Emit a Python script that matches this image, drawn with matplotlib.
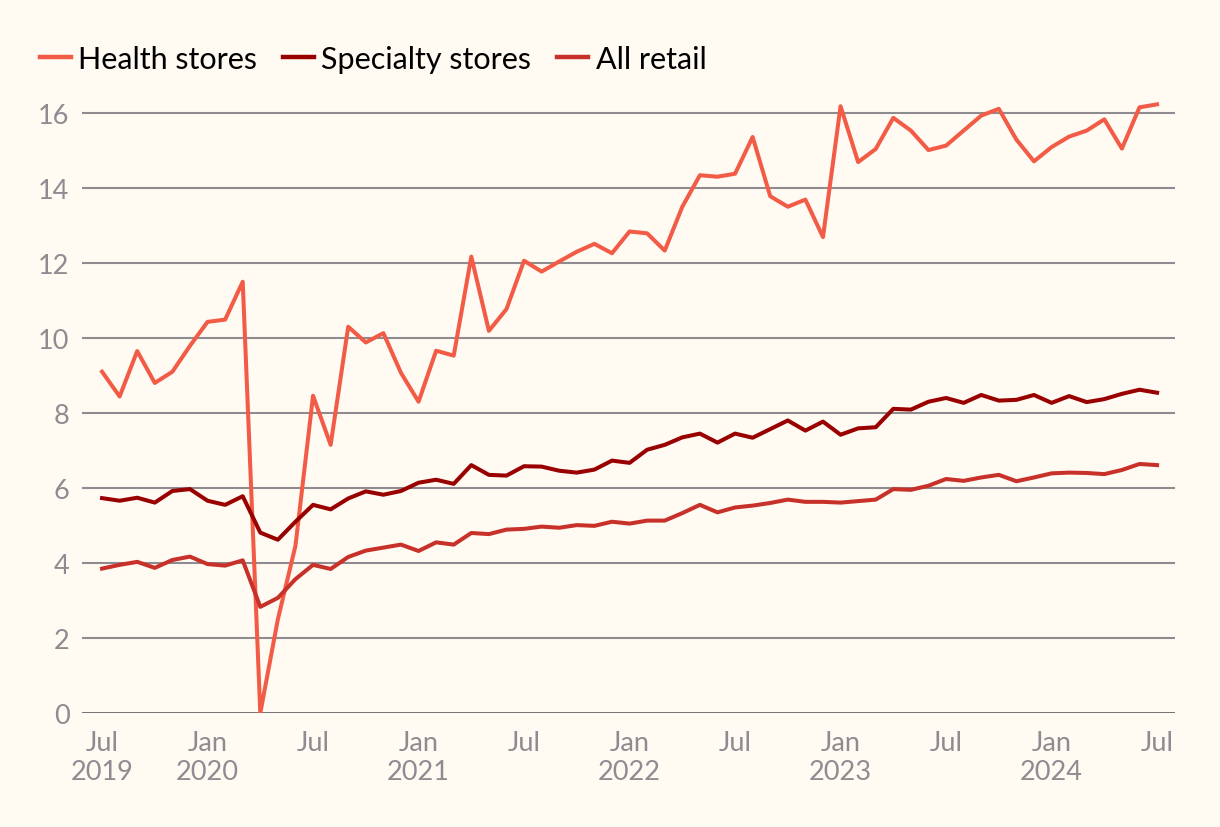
import matplotlib
matplotlib.use("Agg")
import matplotlib.pyplot as plt
from matplotlib.lines import Line2D

# monthly, Jul 2019 .. Jul 2024
health = [9.10, 8.44, 9.65, 8.80, 9.10, 9.79, 10.43, 10.49, 11.50, 0.00,
          2.50, 4.46, 8.46, 7.15, 10.30, 9.88, 10.13, 9.07, 8.30, 9.66,
          9.53, 12.17, 10.19, 10.77, 12.06, 11.77, 12.04, 12.30, 12.51, 12.26,
          12.84, 12.79, 12.33, 13.50, 14.34, 14.30, 14.38, 15.36, 13.78, 13.50,
          13.69, 12.69, 16.18, 14.69, 15.04, 15.87, 15.53, 15.01, 15.13, 15.53,
          15.93, 16.11, 15.29, 14.71, 15.09, 15.37, 15.53, 15.83, 15.05, 16.15,
          16.23]
specialty = [5.73, 5.66, 5.74, 5.61, 5.92, 5.97, 5.66, 5.55, 5.78, 4.81,
             4.62, 5.10, 5.55, 5.43, 5.72, 5.91, 5.82, 5.92, 6.14, 6.22,
             6.11, 6.61, 6.35, 6.33, 6.58, 6.57, 6.46, 6.41, 6.49, 6.73,
             6.67, 7.02, 7.15, 7.35, 7.45, 7.21, 7.45, 7.34, 7.57, 7.80,
             7.53, 7.77, 7.42, 7.59, 7.62, 8.11, 8.09, 8.30, 8.40, 8.27,
             8.48, 8.33, 8.35, 8.48, 8.27, 8.45, 8.29, 8.37, 8.51, 8.62,
             8.54]
all_retail = [3.85, 3.95, 4.03, 3.87, 4.08, 4.17, 3.97, 3.93, 4.07, 2.83,
              3.07, 3.57, 3.95, 3.84, 4.16, 4.33, 4.41, 4.49, 4.32, 4.55,
              4.49, 4.80, 4.77, 4.89, 4.91, 4.97, 4.94, 5.01, 4.99, 5.10,
              5.05, 5.13, 5.13, 5.33, 5.55, 5.35, 5.48, 5.53, 5.60, 5.69,
              5.63, 5.63, 5.61, 5.65, 5.69, 5.97, 5.95, 6.06, 6.24, 6.19,
              6.28, 6.35, 6.18, 6.28, 6.39, 6.41, 6.40, 6.37, 6.48, 6.64,
              6.61]
tick_labels = ["Jul\n2019", "Jan\n2020", "Jul", "Jan\n2021", "Jul", "Jan\n2022",
               "Jul", "Jan\n2023", "Jul", "Jan\n2024", "Jul"]
y_ticks = [0, 2, 4, 6, 8, 10, 12, 14, 16]

bg = "#fffaf2"
c_health = "#f25c47"
c_spec = "#990000"
c_all = "#c8312a"
grey = "#8e8c91"

plt.rcParams['font.family'] = ['Lato', 'DejaVu Sans']

fig = plt.figure(figsize=(12.2, 8.28), dpi=100, facecolor=bg)
ax = fig.add_axes([82 / 1220, 0.1377, 1093 / 1220, 0.7473], facecolor=bg)

x = list(range(len(health)))
ax.plot(x, health, color=c_health, lw=2.9, zorder=3)
ax.plot(x, specialty, color=c_spec, lw=2.9, zorder=3)
ax.plot(x, all_retail, color=c_all, lw=2.9, zorder=3)

ax.set_xlim(-1.14, 61.02)
ax.set_ylim(0, 16.5)
ax.set_yticks(y_ticks)
ax.set_yticklabels([str(v) for v in y_ticks])
ax.set_xticks(range(0, len(health), 6))
ax.set_xticklabels(tick_labels, linespacing=1.2)

for v in y_ticks[1:]:
    ax.axhline(v, color=grey, lw=1.5, zorder=1)
ax.axhline(0, color="#4d4a4f", lw=1.8, zorder=2)

for s in ax.spines.values():
    s.set_visible(False)
ax.tick_params(axis='both', length=0, colors=grey, labelsize=19.5)
ax.tick_params(axis='x', pad=12)
ax.tick_params(axis='y', pad=9)

handles = [Line2D([], [], color=c, lw=3.2) for c in (c_health, c_spec, c_all)]
fig.legend(handles, ["Health stores", "Specialty stores", "All retail"],
           loc='upper left', bbox_to_anchor=(40 / 1220, (828 - 46) / 828), ncol=3,
           frameon=False, borderpad=0, borderaxespad=0,
           fontsize=22, handlelength=1.0, handletextpad=0.25, columnspacing=0.85)

fig.savefig("out.png", dpi=100, facecolor=bg)
